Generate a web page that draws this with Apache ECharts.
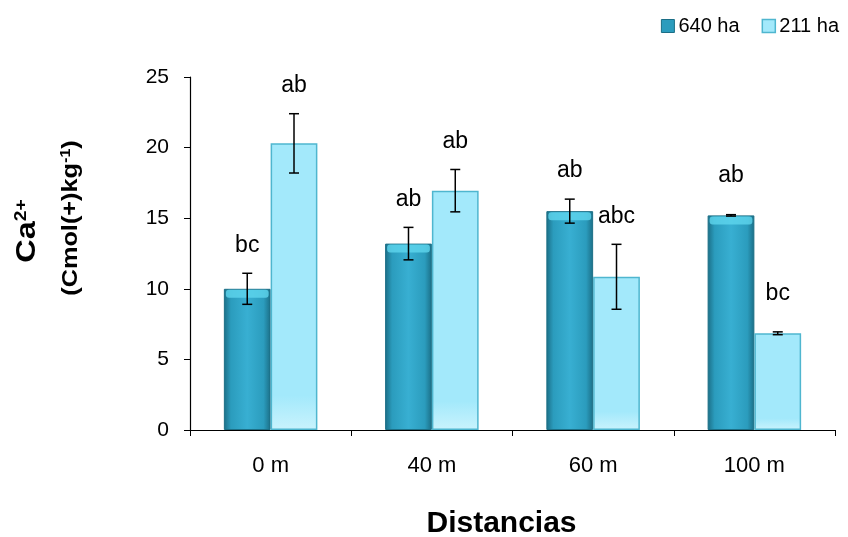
<!DOCTYPE html>
<html>
<head>
<meta charset="utf-8">
<title>Ca2+ por distancia</title>
<script src="https://cdn.jsdelivr.net/npm/echarts@6/dist/echarts.min.js"></script>
<style>
  html, body { margin: 0; padding: 0; background: #fff; }
  #chart { width: 848px; height: 537px; }
</style>
</head>
<body>
<div id="chart"></div>
<script>
// datos
var categorias = ['0 m', '40 m', '60 m', '100 m'];
var nombres = ['640 ha', '211 ha'];
var val640 = [10.0, 13.2, 15.5, 15.2];
var err640 = [1.1, 1.15, 0.85, 0.05];
var letras640 = ['bc', 'ab', 'ab', 'ab'];
var val211 = [20.3, 16.95, 10.85, 6.85];
var err211 = [2.1, 1.5, 2.3, 0.1];
var letras211 = ['ab', 'ab', 'abc', 'bc'];
var ticksY = [0, 5, 10, 15, 20, 25];

var chart = echarts.init(document.getElementById('chart'));
var font = 'Liberation Sans, Arial, sans-serif';
var anchoBarra = 0.29;

var oscuro = {
  type: 'linear', x: 0, y: 0, x2: 1, y2: 0,
  colorStops: [
    { offset: 0, color: '#1b6e86' },
    { offset: 0.15, color: '#2b9cbd' },
    { offset: 0.5, color: '#38afd2' },
    { offset: 0.85, color: '#2b9cbd' },
    { offset: 1, color: '#1b6e86' }
  ]
};
var claro = {
  type: 'linear', x: 0, y: 0, x2: 0, y2: 1,
  colorStops: [
    { offset: 0, color: '#a3e9fb' },
    { offset: 0.88, color: '#a3e9fb' },
    { offset: 1, color: '#c9f3fd' }
  ]
};

function hacerError(vals, errs, letras, lado) {
  return function (params, api) {
    var i = params.dataIndex;
    var v = vals[i], e = errs[i];
    var base = api.coord([i, 0]);
    var w = api.size([1, 0])[0] * anchoBarra;
    var x = base[0] + lado * w / 2;
    var yTop = api.coord([i, v + e])[1];
    var yBot = api.coord([i, v - e])[1];
    var yBar = api.coord([i, v])[1];
    var yLet = Math.min(yTop - 28, yBar - 40);
    var hijos = [];
    if (lado < 0) {
      // brillo superior de la barra oscura
      hijos.push({
        type: 'rect',
        shape: { x: x - w / 2 + 2, y: yBar + 1, width: w - 4, height: 8, r: 3 },
        style: { fill: '#5fd6ee', opacity: 0.8 }
      });
    }
    hijos.push(
      { type: 'line', shape: { x1: x, y1: yTop, x2: x, y2: yBot }, style: { stroke: '#000', lineWidth: 1.5 } },
      { type: 'line', shape: { x1: x - 5, y1: yTop, x2: x + 5, y2: yTop }, style: { stroke: '#000', lineWidth: 1.5 } },
      { type: 'line', shape: { x1: x - 5, y1: yBot, x2: x + 5, y2: yBot }, style: { stroke: '#000', lineWidth: 1.5 } },
      {
        type: 'text',
        style: { x: x, y: yLet, text: letras[i], fill: '#000', font: '23px ' + font, textAlign: 'center', textVerticalAlign: 'middle' }
      }
    );
    return { type: 'group', children: hijos };
  };
}

chart.setOption({
  animation: false,
  textStyle: { fontFamily: font },
  legend: {
    data: [
      { name: nombres[0], icon: 'rect', itemStyle: { color: '#2b9cbd', borderColor: '#1b6e86', borderWidth: 1 } },
      { name: nombres[1], icon: 'rect', itemStyle: { color: '#a3e9fb', borderColor: '#4fb6cf', borderWidth: 1.5 } }
    ],
    right: 4,
    top: 11,
    itemWidth: 13,
    itemHeight: 13,
    itemGap: 22,
    textStyle: { fontSize: 20, color: '#000', padding: [0, 0, 0, -1] }
  },
  grid: { left: 190, right: 13, top: 77, bottom: 107, outerBoundsMode: 'none' },
  xAxis: {
    type: 'category',
    data: categorias,
    axisLine: { lineStyle: { color: '#000', width: 1.2 } },
    axisTick: { show: true, length: 6, lineStyle: { color: '#000' } },
    axisLabel: { color: '#000', fontSize: 22, margin: 25 },
    name: 'Distancias',
    nameLocation: 'middle',
    nameGap: 79,
    nameTextStyle: { fontSize: 30, fontWeight: 'bold', color: '#000', padding: [0, 22, 0, 0] }
  },
  yAxis: {
    type: 'value',
    min: ticksY[0],
    max: ticksY[ticksY.length - 1],
    interval: ticksY[1] - ticksY[0],
    splitLine: { show: false },
    axisLine: { show: true, lineStyle: { color: '#000', width: 1.2 } },
    axisTick: { show: true, length: 6, lineStyle: { color: '#000' } },
    axisLabel: { color: '#000', fontSize: 21, margin: 21 }
  },
  graphic: [
    {
      type: 'text',
      x: 28, y: 231,
      rotation: Math.PI / 2,
      scaleX: 1.2,
      style: {
        text: '{b|Ca}{s|2+}',
        textAlign: 'center',
        textVerticalAlign: 'middle',
        rich: {
          b: { fontSize: 27, fontWeight: 'bold', fontFamily: font, color: '#000' },
          s: { fontSize: 16, fontWeight: 'bold', fontFamily: font, color: '#000', verticalAlign: 'top', padding: [0, 0, 12, 0] }
        }
      }
    },
    {
      type: 'text',
      x: 71, y: 218,
      rotation: Math.PI / 2,
      scaleX: 1.15,
      style: {
        text: '{b|(Cmol(+)kg}{s|-1}{b|)}',
        textAlign: 'center',
        textVerticalAlign: 'middle',
        rich: {
          b: { fontSize: 22, fontWeight: 'bold', fontFamily: font, color: '#000' },
          s: { fontSize: 14, fontWeight: 'bold', fontFamily: font, color: '#000', verticalAlign: 'top', padding: [0, 0, 9, 0] }
        }
      }
    }
  ],
  series: [
    {
      name: nombres[0], type: 'bar', data: val640,
      barWidth: (anchoBarra * 100) + '%', barGap: '0%',
      itemStyle: { color: oscuro, borderColor: '#1c6f86', borderWidth: 1 }
    },
    {
      name: nombres[1], type: 'bar', data: val211,
      barWidth: (anchoBarra * 100) + '%', barGap: '0%',
      itemStyle: { color: claro, borderColor: '#4fb6cf', borderWidth: 1.5 }
    },
    {
      type: 'custom', data: val640.map(function (v, i) { return [i, v]; }),
      renderItem: hacerError(val640, err640, letras640, -1), z: 5
    },
    {
      type: 'custom', data: val211.map(function (v, i) { return [i, v]; }),
      renderItem: hacerError(val211, err211, letras211, 1), z: 5
    }
  ]
});
</script>
</body>
</html>
